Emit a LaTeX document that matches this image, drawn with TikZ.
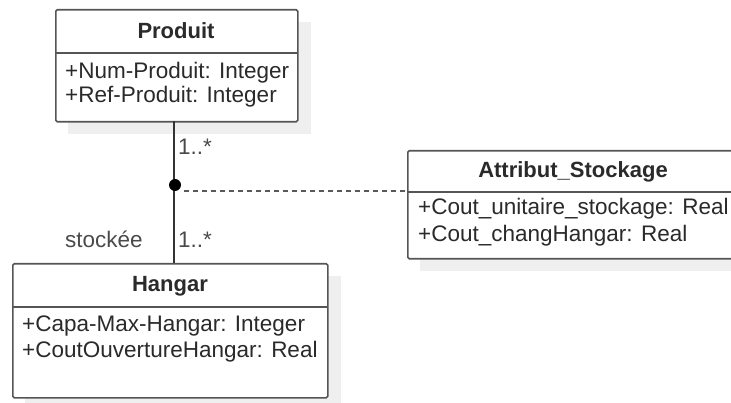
\documentclass[tikz,border=0pt]{standalone}
\usepackage{fontspec}
\setmainfont{Liberation Sans}
\definecolor{linec}{HTML}{555555}
\definecolor{textc}{HTML}{2A2A2A}
\definecolor{shadowc}{HTML}{EFEFEF}
\begin{document}
\begin{tikzpicture}[x=1pt,y=-1pt,
  umlbox/.style={draw=linec, line width=1.6pt, rounded corners=1.5pt, rectangle, anchor=north west, inner sep=0pt},
  shade/.style={fill=shadowc, draw=none},
  sep/.style={draw=linec, line width=1.6pt},
  title/.style={font=\fontsize{22}{25}\selectfont\bfseries, text=textc, inner sep=0pt, anchor=base},
  attr/.style={font=\fontsize{22.5}{25}\selectfont, text=textc, inner sep=0pt, anchor=base west},
  lbl/.style={font=\fontsize{22.5}{25}\selectfont, text=textc!85, inner sep=0pt, anchor=base west},
  assoc/.style={draw=black!80, line width=1.4pt},
  dashedlink/.style={draw=black!65, line width=2pt, dash pattern=on 5pt off 4pt}
]
\useasboundingbox (0,0) rectangle (731,403);
\clip (0,0) rectangle (731,403);
% shadows
\fill[shade] (68,22) rectangle (311,134);
\fill[shade] (25,276) rectangle (341,410);
\fill[shade] (420,163) rectangle (760,271);
% Produit
\node[umlbox, minimum width=242pt, minimum height=112pt, fill=white] (produit) at (55,9) {};
\draw[sep] (55,53) -- (297,53);
\node[title] (produitT) at (176,39) {Produit};
\node[attr] (produitA1) at (65,79) {+Num-Produit: Integer};
\node[attr] (produitA2) at (65,103) {+Ref-Produit: Integer};
% Hangar
\node[umlbox, minimum width=315pt, minimum height=134pt, fill=white] (hangar) at (12,263) {};
\draw[sep] (12,307) -- (327,307);
\node[title] (hangarT) at (170,292) {Hangar};
\node[attr] (hangarA1) at (22,332) {+Capa-Max-Hangar: Integer};
\node[attr] (hangarA2) at (22,357) {+CoutOuvertureHangar: Real};
% Attribut_Stockage
\node[umlbox, minimum width=333pt, minimum height=108pt, fill=white] (attrib) at (407,150) {};
\draw[sep] (407,192) -- (740,192);
\node[title] (attribT) at (573,178) {Attribut\_Stockage};
\node[attr] (attribA1) at (418,215) {+Cout\_unitaire\_stockage: Real};
\node[attr] (attribA2) at (418,242) {+Cout\_changHangar: Real};
% association
\coordinate (ptop) at (174,121);
\coordinate (pbot) at (174,263);
\draw[assoc] (ptop) -- (pbot);
\node[circle, fill=black, inner sep=0pt, minimum size=12pt] (dot) at (175,185) {};
\coordinate (dend) at (407,191);
\draw[dashedlink] (dot.east |- dend) ++(3,0) -- (dend);
\node[lbl] (m1) at (178,155) {1..*};
\node[lbl] (m2) at (178,248) {1..*};
\node[lbl] (role) at (65,248) {stockée};
\end{tikzpicture}
\end{document}
